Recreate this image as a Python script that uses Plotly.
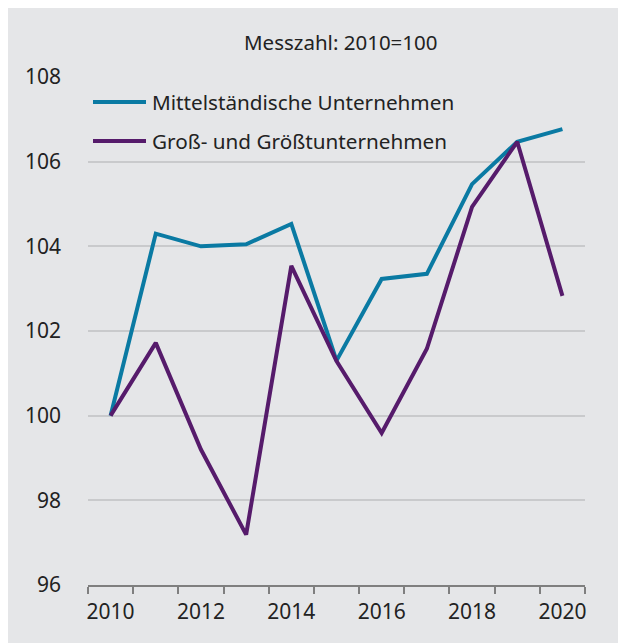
import plotly.graph_objects as go

years = [2010, 2011, 2012, 2013, 2014, 2015, 2016, 2017, 2018, 2019, 2020]
mittel = [100.0, 104.3, 104.0, 104.05, 104.53, 101.3, 103.23, 103.35, 105.47, 106.47, 106.77]
gross = [100.0, 101.72, 99.2, 97.19, 103.54, 101.29, 99.59, 101.58, 104.93, 106.47, 102.83]
series_names = ["Mittelständische Unternehmen", "Groß- und Größtunternehmen"]
series_colors = ["#0a7aa3", "#561b6b"]
x_ticklabels = ["2010", "2012", "2014", "2016", "2018", "2020"]
y_ticks = [96, 98, 100, 102, 104, 106, 108]
title_text = "Messzahl: 2010=100"

FONT = "Noto Sans"
TXT = "#222222"
BG = "#e5e6e8"

# page coordinates (body margin removed in post_script)
W, H = 618, 643
L, R, T, B = 88, 33, 77, 58
pw, ph = W - L - R, H - T - B

def px_x(x):
    return (x - L) / pw

def px_y(y):
    return (H - B - y) / ph

fig = go.Figure()
for name, vals, col in zip(series_names, [mittel, gross], series_colors):
    fig.add_trace(go.Scatter(x=years, y=vals, mode="lines", name=name,
                             line=dict(color=col, width=4), showlegend=False))

shapes = [dict(type="rect", xref="paper", yref="paper", layer="below",
               x0=px_x(8), x1=px_x(W + 2), y0=px_y(H + 2), y1=px_y(8),
               fillcolor=BG, line=dict(width=0))]
annotations = [dict(text=title_text, xref="paper", yref="paper", x=px_x(341), y=px_y(42),
                    showarrow=False, xanchor="center", yanchor="middle",
                    font=dict(family=FONT, size=20.5, color=TXT))]
leg_y = [102, 141]
for name, col, yy in zip(series_names, series_colors, leg_y):
    shapes.append(dict(type="line", xref="paper", yref="paper",
                       x0=px_x(93), x1=px_x(146), y0=px_y(yy), y1=px_y(yy),
                       line=dict(color=col, width=4)))
    annotations.append(dict(text=name, xref="paper", yref="paper", x=px_x(150), y=px_y(yy),
                            showarrow=False, xanchor="left", yanchor="middle",
                            font=dict(family=FONT, size=20.7, color=TXT)))

fig.update_layout(
    width=W, height=H,
    margin=dict(l=L, r=R, t=T, b=B),
    paper_bgcolor="white", plot_bgcolor="rgba(0,0,0,0)",
    font=dict(family=FONT, size=21, color=TXT),
    shapes=shapes, annotations=annotations,
    xaxis=dict(range=[2009.5, 2020.5], tickmode="array",
               tickvals=[int(t) for t in x_ticklabels], ticktext=x_ticklabels,
               ticks="", showgrid=False, zeroline=False,
               showline=True, linecolor="#7f7f7f", linewidth=2,
               ticklabelstandoff=7,
               minor=dict(tickmode="linear", tick0=2009.5, dtick=1, ticks="outside",
                          ticklen=7, tickwidth=1.5, tickcolor="#7f7f7f", showgrid=False)),
    yaxis=dict(range=[96, 108], tickmode="array", tickvals=y_ticks,
               ticks="", showgrid=True, gridcolor="#c9cacc", gridwidth=1.5,
               zeroline=False, showline=False, ticklabelstandoff=26),
)

fig.write_html("out.html", config={"displayModeBar": False},
               post_script="document.body.style.margin='0';document.body.style.overflow='hidden';")
